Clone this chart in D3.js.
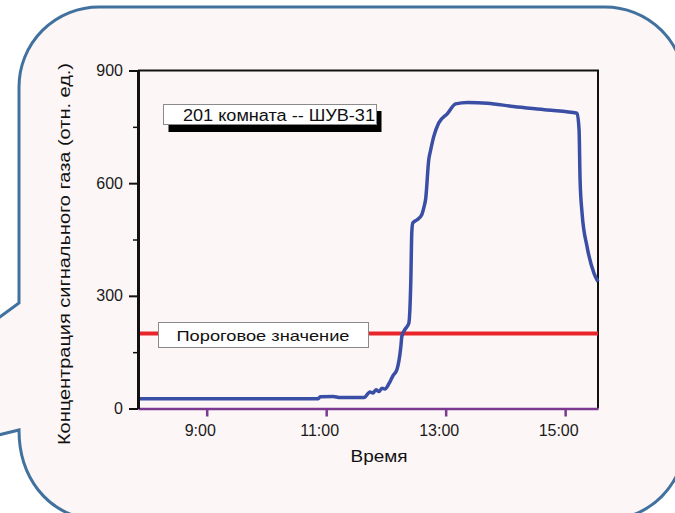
<!DOCTYPE html>
<html>
<head>
<meta charset="utf-8">
<script src="https://cdn.jsdelivr.net/npm/d3@7"></script>
<style>
  body { margin: 0; background: #ffffff; }
  svg { display: block; font-family: "Liberation Sans", Arial, sans-serif; }
</style>
</head>
<body>
<svg id="chart"></svg>
<script>
// sensor readings, room 201
var times = ["7:51","10:52","10:54","11:07","11:14","11:38","11:44","11:47","11:50","11:53",
             "11:56","11:59","12:03","12:05","12:07","12:11","12:15","12:16","12:19","12:23",
             "12:25","12:26","12:27","12:31","12:36","12:38","12:40","12:43","12:45","12:48",
             "12:53","13:02","13:10","13:22","13:42","14:08","14:42","15:12","15:14","15:15",
             "15:17","15:22","15:29","15:33"];
var values = [26,26,31,32,29,29,44,41,50,45,
              54,52,66,76,87,103,165,192,210,227,
              340,470,494,502,516,534,560,662,689,724,
              760,786,811,815,813,804,795,786,741,609,
              520,431,360,338];
var threshold = 200;
var yTicks = [0, 300, 600, 900];
var yMinorTicks = [150, 450, 750];
var xTicks = ["9:00", "11:00", "13:00", "15:00"];

var seriesName = "201 комната -- ШУВ-31";
var thresholdName = "Пороговое значение";

var width = 675, height = 513;
var svg = d3.select('#chart').attr('width', width).attr('height', height);

function hours(s) {
    var p = s.split(':');
    return +p[0] + (+p[1]) / 60;
}

var data = times.map((t, i) => ({ t: hours(t), v: values[i] }));

// speech bubble background
svg.append('path')
    .attr('d', 'M19,303 L19,87 A80,80 0 0 1 99,7 L605,7 A80,80 0 0 1 685,87 L685,440 ' +
               'A80,80 0 0 1 605,520 L95,520 C45,515 19,475 19,430 L-30,442 L-30,339 Z')
    .attr('fill', '#fcf6f6')
    .attr('stroke', '#41729f')
    .attr('stroke-width', 3);

var x = d3.scaleLinear()
            .domain(d3.extent(data, d => d.t))
            .range([138, 598]);
var y = d3.scaleLinear()
            .domain([0, 900])
            .range([408.5, 70.5]);

var plot = svg.append('g');

// top and right frame
plot.append('path')
    .attr('d', `M${x.range()[0]},${y(900)} H${x.range()[1]} V${y(0)}`)
    .attr('fill', 'none')
    .attr('stroke', '#111')
    .attr('stroke-width', 2);

// threshold line
plot.append('line')
    .attr('x1', x.range()[0]).attr('x2', x.range()[1])
    .attr('y1', y(threshold)).attr('y2', y(threshold))
    .attr('stroke', '#e8262a')
    .attr('stroke-width', 4);

// signal line
var line = d3.line()
            .x(d => x(d.t))
            .y(d => y(d.v))
            .curve(d3.curveMonotoneX);
plot.append('path')
    .datum(data)
    .attr('d', line)
    .attr('fill', 'none')
    .attr('stroke', '#3a4ea6')
    .attr('stroke-width', 3.5)
    .attr('stroke-linejoin', 'round');

// x axis (purple)
var xAxis = plot.append('g')
    .attr('transform', `translate(0, ${y(0)})`)
    .call(d3.axisBottom(x)
            .tickValues(xTicks.map(hours))
            .tickFormat((d, i) => xTicks[i])
            .tickSize(8)
            .tickSizeOuter(0)
            .tickPadding(8));
xAxis.select('.domain').attr('stroke', '#7b3990').attr('stroke-width', 2.5);
xAxis.selectAll('.tick line').attr('stroke', '#7b3990').attr('stroke-width', 2.5);
xAxis.selectAll('.tick text')
    .attr('fill', '#1a1a1a')
    .attr('dx', -7)
    .style('font-size', '16px')
    .style('font-family', '"Liberation Sans", Arial, sans-serif');

// y axis
var yMinor = plot.append('g')
    .attr('transform', `translate(${x.range()[0]}, 0)`)
    .call(d3.axisLeft(y).tickValues(yMinorTicks).tickSize(5).tickFormat(''));
yMinor.select('.domain').remove();
yMinor.selectAll('.tick line').attr('stroke', '#111').attr('stroke-width', 1.5);

var yAxis = plot.append('g')
    .attr('transform', `translate(${x.range()[0]}, 0)`)
    .call(d3.axisLeft(y)
            .tickValues(yTicks)
            .tickSize(9)
            .tickSizeOuter(0)
            .tickPadding(6));
yAxis.select('.domain').attr('stroke', '#111').attr('stroke-width', 3);
yAxis.selectAll('.tick line').attr('stroke', '#111').attr('stroke-width', 2);
yAxis.selectAll('.tick text')
    .attr('fill', '#1a1a1a')
    .style('font-size', '16px')
    .style('font-family', '"Liberation Sans", Arial, sans-serif');

// legend box with shadow
var legend = svg.append('g');
legend.append('rect')
    .attr('x', 168.5).attr('y', 111)
    .attr('width', 213).attr('height', 21)
    .attr('fill', '#000');
legend.append('rect')
    .attr('x', 163.5).attr('y', 104.5)
    .attr('width', 213).attr('height', 20)
    .attr('fill', '#ffffff')
    .attr('stroke', '#8a8a8a')
    .attr('stroke-width', 1);
legend.append('text')
    .attr('x', 183).attr('y', 120.5)
    .attr('textLength', 192)
    .attr('lengthAdjust', 'spacingAndGlyphs')
    .style('font-size', '16px')
    .attr('fill', '#111')
    .text(seriesName);

// threshold label
var thr = svg.append('g');
thr.append('rect')
    .attr('x', 158.5).attr('y', 322.5)
    .attr('width', 210).attr('height', 25)
    .attr('fill', '#ffffff')
    .attr('stroke', '#8a8a8a')
    .attr('stroke-width', 1);
thr.append('text')
    .attr('x', 176.5).attr('y', 340.5)
    .attr('textLength', 173)
    .attr('lengthAdjust', 'spacingAndGlyphs')
    .style('font-size', '15px')
    .attr('fill', '#111')
    .text(thresholdName);

// axis titles
svg.append('text')
    .attr('x', 379).attr('y', 462)
    .attr('text-anchor', 'middle')
    .attr('textLength', 57)
    .attr('lengthAdjust', 'spacingAndGlyphs')
    .style('font-size', '17px')
    .attr('fill', '#111')
    .text('Время');

svg.append('text')
    .attr('transform', 'translate(70, 254) rotate(-90)')
    .attr('text-anchor', 'middle')
    .attr('textLength', 382)
    .attr('lengthAdjust', 'spacingAndGlyphs')
    .style('font-size', '16px')
    .attr('fill', '#111')
    .text('Концентрация сигнального газа (отн. ед.)');
</script>
</body>
</html>
